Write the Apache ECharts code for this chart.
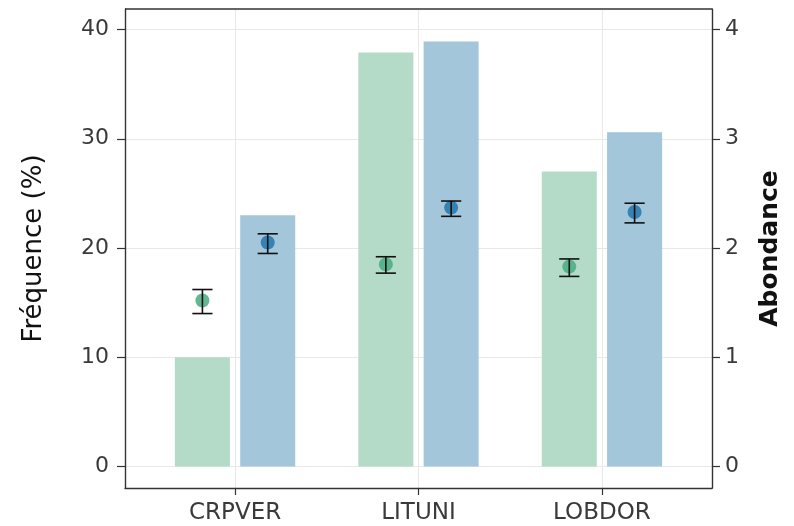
<!DOCTYPE html>
<html>
<head>
<meta charset="utf-8">
<script src="https://cdn.jsdelivr.net/npm/echarts@6/dist/echarts.min.js"></script>
<style>
  html, body { margin: 0; padding: 0; background: #fff; }
  #chart { width: 794px; height: 526px; }
</style>
</head>
<body>
<div id="chart"></div>
<script>
// données
var categories = ['CRPVER', 'LITUNI', 'LOBDOR'];
var freqVert = [10.0, 37.9, 27.0];
var freqBleu = [23.0, 38.9, 30.6];
var abVert = [1.52, 1.85, 1.83];
var abVertBas = [1.40, 1.77, 1.74];
var abVertHaut = [1.62, 1.92, 1.90];
var abBleu = [2.05, 2.37, 2.33];
var abBleuBas = [1.95, 2.29, 2.23];
var abBleuHaut = [2.13, 2.43, 2.41];
var freqTicks = [0, 10, 20, 30, 40];
var abTicks = [0, 1, 2, 3, 4];
var catTicks = [0, 1, 2];

var chart = echarts.init(document.getElementById('chart'));

var BAR_W = 0.30;      // largeur d'une barre (unités de catégorie)
var DODGE = 0.178;     // décalage de chaque groupe
var CAP_W = 0.11;      // largeur des moustaches

function barRender(offset, color) {
    return function (params, api) {
        var x = api.value(0) + offset;
        var p0 = api.coord([x - BAR_W / 2, api.value(1)]);
        var p1 = api.coord([x + BAR_W / 2, 0]);
        return {
            type: 'rect',
            shape: { x: p0[0], y: p0[1], width: p1[0] - p0[0], height: p1[1] - p0[1] },
            style: { fill: color }
        };
    };
}

function errRender(offset, color) {
    return function (params, api) {
        var x = api.value(0) + offset;
        var c = api.coord([x, api.value(1)]);
        var lo = api.coord([x, api.value(2)]);
        var hi = api.coord([x, api.value(3)]);
        var half = api.size([CAP_W, 0])[0] / 2;
        var line = { stroke: '#111', lineWidth: 1.6 };
        return {
            type: 'group',
            children: [
                { type: 'circle', shape: { cx: c[0], cy: c[1], r: 7 }, style: { fill: color } },
                { type: 'line', shape: { x1: c[0], y1: lo[1], x2: c[0], y2: hi[1] }, style: line },
                { type: 'line', shape: { x1: c[0] - half, y1: lo[1], x2: c[0] + half, y2: lo[1] }, style: line },
                { type: 'line', shape: { x1: c[0] - half, y1: hi[1], x2: c[0] + half, y2: hi[1] }, style: line }
            ]
        };
    };
}

function pairs(vals) {
    return vals.map(function (v, i) { return [i, v]; });
}
function errData(mean, lo, hi) {
    return mean.map(function (v, i) { return [i, v, lo[i], hi[i]]; });
}

var tickLabel = { fontFamily: 'DejaVu Sans', fontSize: 22, color: '#3a3a3a' };
var gridLine = { show: true, lineStyle: { color: '#e8e8e8', width: 1 } };
var frameLine = { show: true, onZero: false, lineStyle: { color: '#333', width: 1.4 } };

var option = {
    animation: false,
    grid: { left: 125, right: 82, top: 9, bottom: 38 },
    xAxis: {
        type: 'value',
        min: -0.6,
        max: 2.6,
        axisLine: frameLine,
        axisTick: { show: true, length: 7, customValues: catTicks, lineStyle: { color: '#333', width: 1.2 } },
        splitLine: Object.assign({ customValues: catTicks }, gridLine),
        axisLabel: Object.assign({}, tickLabel, {
            fontSize: 23,
            margin: 14,
            customValues: catTicks,
            formatter: function (v) { return categories[Math.round(v)]; }
        })
    },
    yAxis: [
        {
            type: 'value',
            min: -1.97,
            max: 41.88,
            position: 'left',
            name: 'Fréquence (%)',
            nameLocation: 'middle',
            nameRotate: 90,
            nameGap: 78,
            nameTextStyle: { fontFamily: 'DejaVu Sans', fontSize: 26, color: '#111' },
            axisLine: frameLine,
            axisTick: { show: true, length: 8, customValues: freqTicks, lineStyle: { color: '#333', width: 1.2 } },
            splitLine: Object.assign({ customValues: freqTicks }, gridLine),
            axisLabel: Object.assign({}, tickLabel, { margin: 16, customValues: freqTicks })
        },
        {
            type: 'value',
            min: -0.197,
            max: 4.188,
            position: 'right',
            name: 'Abondance',
            nameLocation: 'middle',
            nameRotate: 90,
            nameGap: 46,
            nameTextStyle: { fontFamily: 'DejaVu Sans', fontSize: 25, fontWeight: 'bold', color: '#111' },
            axisLine: frameLine,
            axisTick: { show: true, length: 8, customValues: abTicks, lineStyle: { color: '#333', width: 1.2 } },
            splitLine: { show: false },
            axisLabel: Object.assign({}, tickLabel, { margin: 13, customValues: abTicks })
        }
    ],
    series: [
        {
            type: 'custom', name: 'freqVert', xAxisIndex: 0, yAxisIndex: 0,
            renderItem: barRender(-DODGE, '#b3dbc8'),
            data: pairs(freqVert), z: 2
        },
        {
            type: 'custom', name: 'freqBleu', xAxisIndex: 0, yAxisIndex: 0,
            renderItem: barRender(DODGE, '#a3c6db'),
            data: pairs(freqBleu), z: 2
        },
        {
            type: 'custom', name: 'abVert', xAxisIndex: 0, yAxisIndex: 1,
            renderItem: errRender(-DODGE, 'rgba(72,172,128,0.85)'),
            data: errData(abVert, abVertBas, abVertHaut), z: 3
        },
        {
            type: 'custom', name: 'abBleu', xAxisIndex: 0, yAxisIndex: 1,
            renderItem: errRender(DODGE, 'rgba(36,116,172,0.85)'),
            data: errData(abBleu, abBleuBas, abBleuHaut), z: 3
        }
    ]
};

chart.setOption(option);

// cadre haut (ggplot theme_bw)
var g = chart.getModel().getComponent('grid', 0).coordinateSystem.getRect();
chart.setOption({
    graphic: [{
        type: 'line', silent: true, z: 10,
        shape: { x1: g.x, y1: g.y, x2: g.x + g.width, y2: g.y },
        style: { stroke: '#333', lineWidth: 1.4 }
    }]
});
</script>
</body>
</html>
